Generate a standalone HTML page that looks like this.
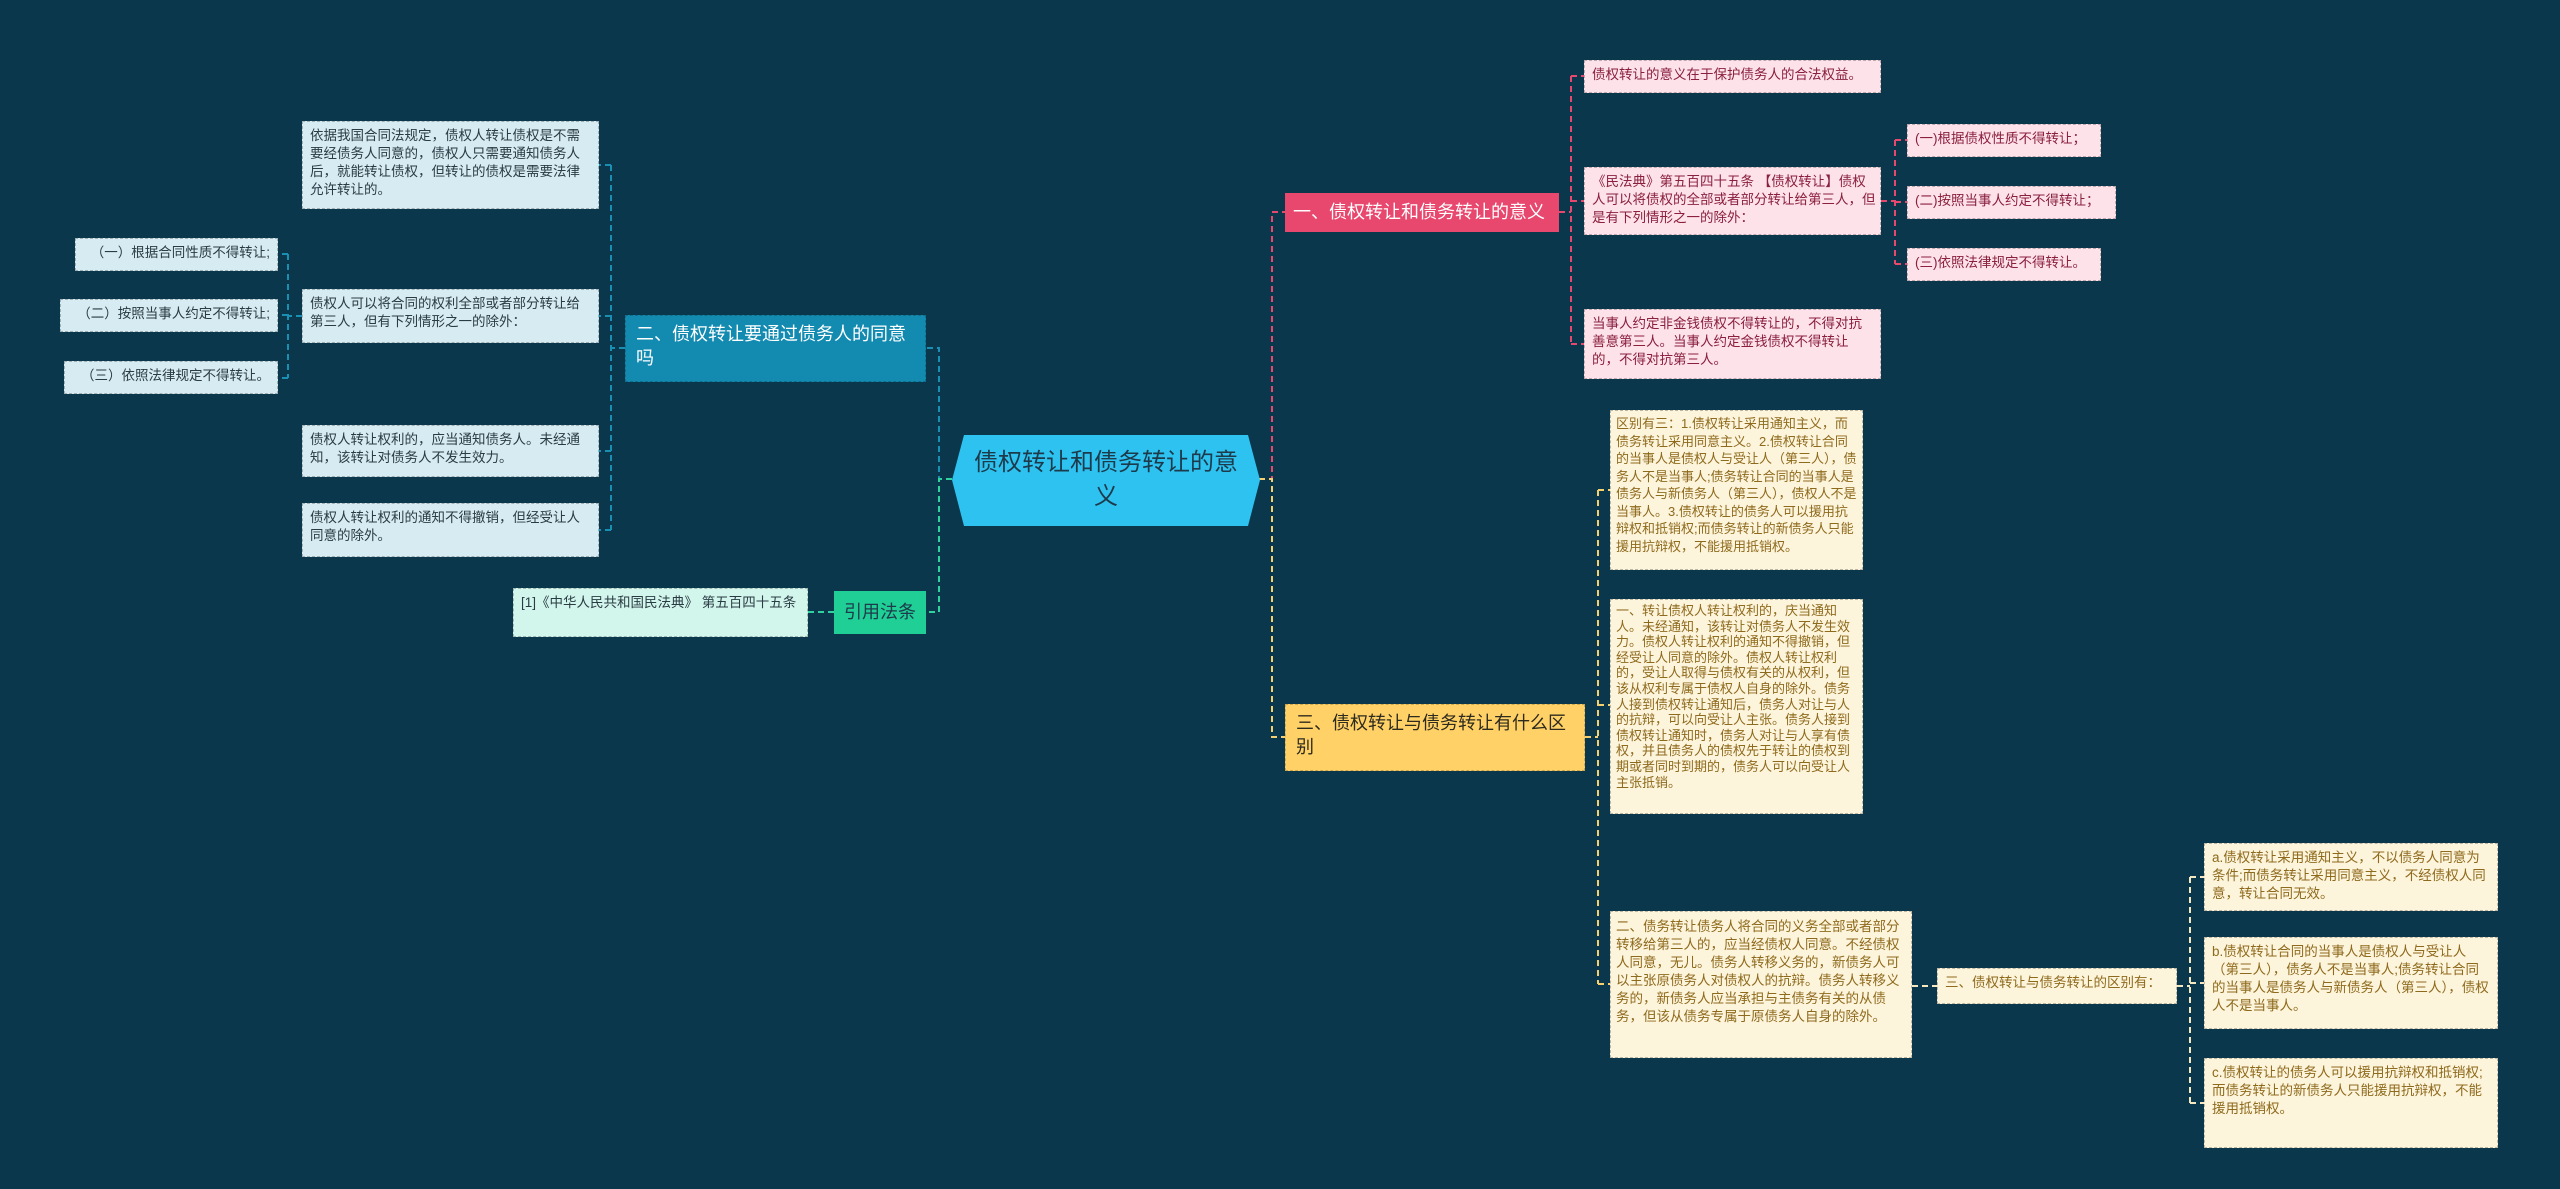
<!DOCTYPE html>
<html><head><meta charset="utf-8">
<style>
html,body{margin:0;padding:0;}
body{width:2560px;height:1189px;background:#0a374b;position:relative;overflow:hidden;font-family:"Liberation Sans","Noto Sans CJK SC",sans-serif;}
.b{position:absolute;box-sizing:border-box;font-size:13.5px;line-height:18px;padding:5px 7px;border:1.5px dashed rgba(0,0,0,0.25);}
.lb{background:#d7ebf2;color:#2a3b44;}
.pk{background:#fde2e9;color:#8a1f3e;}
.yl{background:#fdf4dc;color:#8e6a1c;}
.sm{font-size:13px;padding:4px 5px;}
.n{position:absolute;box-sizing:border-box;font-size:18px;line-height:24px;padding:6px 10px;}
svg{position:absolute;left:0;top:0;}
</style></head><body>
<svg width="2560" height="1189" fill="none" stroke-width="2">
 <path d="M952 479 H939 V348 H926" stroke="#1a8fb4" stroke-dasharray="6,4"/>
 <path d="M952 479 H939 V612 H926" stroke="#2fd3a0" stroke-dasharray="6,4"/>
 <path d="M625 348 H611 M611 165 V530 M611 165 H599 M611 316 H599 M611 451 H599 M611 530 H599" stroke="#1a8fb4" stroke-dasharray="6,4"/>
 <path d="M302 316 H288 M288 254 V378 M288 254 H278 M288 315 H278 M288 378 H278" stroke="#1a8fb4" stroke-dasharray="6,4"/>
 <path d="M834 612 H808" stroke="#2fd3a0" stroke-dasharray="6,4"/>
 <path d="M1259 479 H1272 V212 H1285" stroke="#e8476e" stroke-dasharray="6,4"/>
 <path d="M1259 479 H1272 V737 H1285" stroke="#f5d070" stroke-dasharray="6,4"/>
 <path d="M1559 212 H1571 M1571 76 V344 M1571 76 H1584 M1571 201 H1584 M1571 344 H1584" stroke="#e8476e" stroke-dasharray="6,4"/>
 <path d="M1881 201 H1895 M1895 140 V264 M1895 140 H1907 M1895 202 H1907 M1895 264 H1907" stroke="#e8476e" stroke-dasharray="6,4"/>
 <path d="M1585 737 H1598 M1598 490 V984 M1598 490 H1610 M1598 705 H1610 M1598 984 H1610" stroke="#f5d070" stroke-dasharray="6,4"/>
 <path d="M1912 986 H1937 M2177 986 H2190 M2190 877 V1103 M2190 877 H2204 M2190 983 H2204 M2190 1103 H2204" stroke="#f5e8c0" stroke-dasharray="6,4"/>
</svg>

<svg width="2560" height="1189"><polygon points="964,435 1248,435 1260,480 1248,526 964,526 952,480" fill="#2ec2f0"/></svg>
<div style="position:absolute;left:970px;top:446px;width:272px;text-align:center;font-size:24px;line-height:34px;color:#1d3a4b;">债权转让和债务转让的意义</div>

<div class="b lb" style="left:302px;top:121px;width:297px;height:88px;">依据我国合同法规定，债权人转让债权是不需要经债务人同意的，债权人只需要通知债务人后，就能转让债权，但转让的债权是需要法律允许转让的。</div>
<div class="b lb" style="left:75px;top:238px;width:203px;height:33px;text-align:right;">（一）根据合同性质不得转让;</div>
<div class="b lb" style="left:60px;top:299px;width:218px;height:33px;text-align:right;">（二）按照当事人约定不得转让;</div>
<div class="b lb" style="left:64px;top:361px;width:214px;height:33px;text-align:right;">（三）依照法律规定不得转让。</div>
<div class="b lb" style="left:302px;top:289px;width:297px;height:54px;">债权人可以将合同的权利全部或者部分转让给第三人，但有下列情形之一的除外：</div>
<div class="b lb" style="left:302px;top:425px;width:297px;height:52px;">债权人转让权利的，应当通知债务人。未经通知，该转让对债务人不发生效力。</div>
<div class="b lb" style="left:302px;top:503px;width:297px;height:54px;">债权人转让权利的通知不得撤销，但经受让人同意的除外。</div>
<div class="n" style="left:625px;top:315px;width:301px;height:67px;background:#138bb1;color:#fff;border:1.5px dashed rgba(0,0,0,0.2);">二、债权转让要通过债务人的同意吗</div>
<div class="b" style="left:513px;top:588px;width:295px;height:49px;background:#d3f6ec;color:#2a3b44;">[1]《中华人民共和国民法典》 第五百四十五条</div>
<div class="n" style="left:834px;top:591px;width:92px;height:43px;background:#1fcf95;color:#1d3a4b;text-align:center;line-height:31px;">引用法条</div>

<div class="n" style="left:1285px;top:193px;width:274px;height:39px;background:#e8476e;color:#fff;line-height:27px;padding:6px 8px;">一、债权转让和债务转让的意义</div>
<div class="b pk" style="left:1584px;top:60px;width:297px;height:33px;">债权转让的意义在于保护债务人的合法权益。</div>
<div class="b pk" style="left:1584px;top:167px;width:297px;height:68px;padding-right:4px;">《民法典》第五百四十五条 【债权转让】债权人可以将债权的全部或者部分转让给第三人，但是有下列情形之一的除外：</div>
<div class="b pk" style="left:1584px;top:309px;width:297px;height:70px;">当事人约定非金钱债权不得转让的，不得对抗善意第三人。当事人约定金钱债权不得转让的，不得对抗第三人。</div>
<div class="b pk" style="left:1907px;top:124px;width:194px;height:33px;">(一)根据债权性质不得转让；</div>
<div class="b pk" style="left:1907px;top:186px;width:209px;height:33px;">(二)按照当事人约定不得转让；</div>
<div class="b pk" style="left:1907px;top:248px;width:194px;height:33px;">(三)依照法律规定不得转让。</div>

<div class="n" style="left:1285px;top:704px;width:300px;height:67px;background:#ffd166;color:#2d2a1e;border:1.5px dashed rgba(0,0,0,0.2);">三、债权转让与债务转让有什么区别</div>
<div class="b yl sm" style="left:1610px;top:410px;width:253px;height:160px;line-height:17.5px;">区别有三：1.债权转让采用通知主义，而债务转让采用同意主义。2.债权转让合同的当事人是债权人与受让人（第三人），债务人不是当事人;债务转让合同的当事人是债务人与新债务人（第三人），债权人不是当事人。3.债权转让的债务人可以援用抗辩权和抵销权;而债务转让的新债务人只能援用抗辩权，不能援用抵销权。</div>
<div class="b yl sm" style="left:1610px;top:599px;width:253px;height:215px;line-height:15.6px;padding-top:3px;">一、转让债权人转让权利的，庆当通知人。未经通知，该转让对债务人不发生效力。债权人转让权利的通知不得撤销，但经受让人同意的除外。债权人转让权利的，受让人取得与债权有关的从权利，但该从权利专属于债权人自身的除外。债务人接到债权转让通知后，债务人对让与人的抗辩，可以向受让人主张。债务人接到债权转让通知时，债务人对让与人享有债权，并且债务人的债权先于转让的债权到期或者同时到期的，债务人可以向受让人主张抵销。</div>
<div class="b yl" style="left:1610px;top:911px;width:302px;height:147px;padding:6px 5px;">二、债务转让债务人将合同的义务全部或者部分转移给第三人的，应当经债权人同意。不经债权人同意，无儿。债务人转移义务的，新债务人可以主张原债务人对债权人的抗辩。债务人转移义务的，新债务人应当承担与主债务有关的从债务，但该从债务专属于原债务人自身的除外。</div>
<div class="b yl" style="left:1937px;top:968px;width:240px;height:36px;">三、债权转让与债务转让的区别有：</div>
<div class="b yl" style="left:2204px;top:843px;width:294px;height:68px;">a.债权转让采用通知主义，不以债务人同意为条件;而债务转让采用同意主义，不经债权人同意，转让合同无效。</div>
<div class="b yl" style="left:2204px;top:937px;width:294px;height:92px;">b.债权转让合同的当事人是债权人与受让人（第三人），债务人不是当事人;债务转让合同的当事人是债务人与新债务人（第三人），债权人不是当事人。</div>
<div class="b yl" style="left:2204px;top:1058px;width:294px;height:90px;">c.债权转让的债务人可以援用抗辩权和抵销权;而债务转让的新债务人只能援用抗辩权，不能援用抵销权。</div>
</body></html>
